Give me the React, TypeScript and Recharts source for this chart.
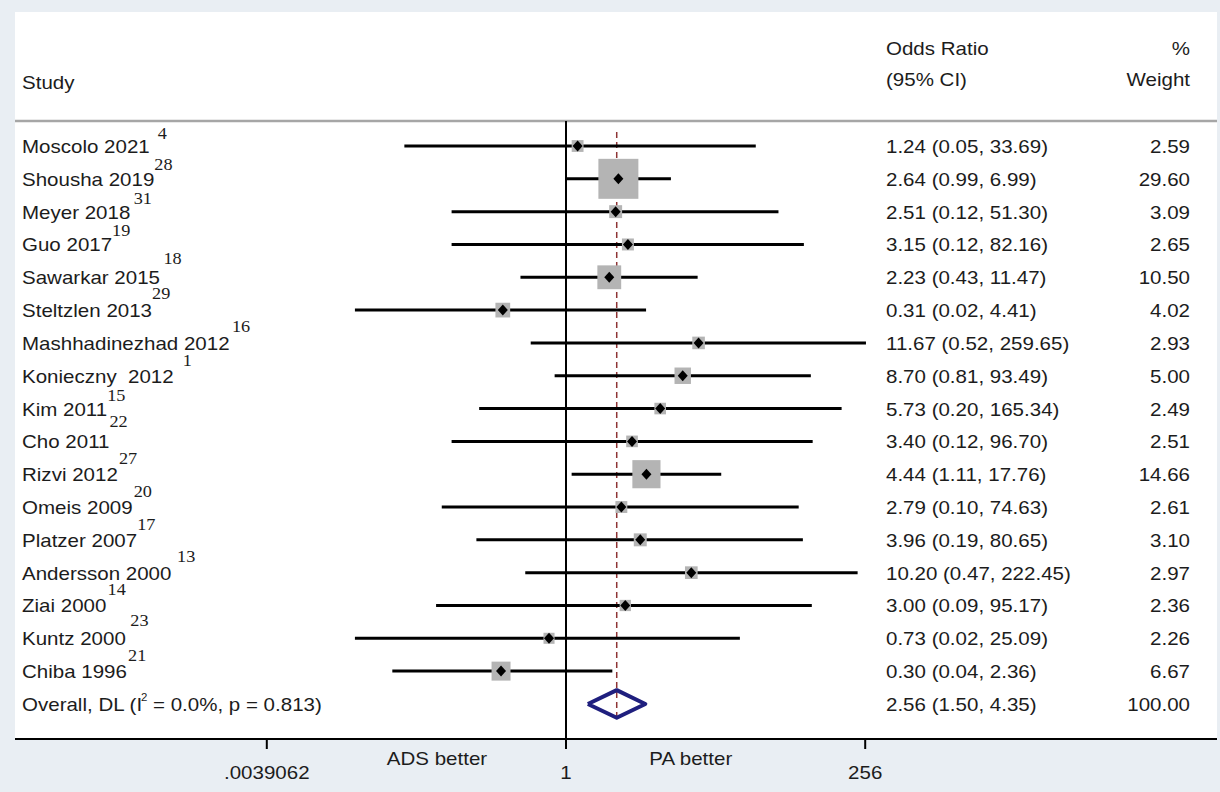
import {
  ScatterChart,
  Scatter,
  XAxis,
  YAxis,
  CartesianGrid,
  ReferenceLine,
  ErrorBar,
} from 'recharts';

// study rows, top to bottom
const studies = [
  'Moscolo 2021',
  'Shousha 2019',
  'Meyer 2018',
  'Guo 2017',
  'Sawarkar 2015',
  'Steltzlen 2013',
  'Mashhadinezhad 2012',
  'Konieczny  2012',
  'Kim 2011',
  'Cho 2011',
  'Rizvi 2012',
  'Omeis 2009',
  'Platzer 2007',
  'Andersson 2000',
  'Ziai 2000',
  'Kuntz 2000',
  'Chiba 1996',
];
const refs = ['4', '28', '31', '19', '18', '29', '16', '1', '15', '22', '27', '20', '17', '13', '14', '23', '21'];
const oddsRatio = [1.24, 2.64, 2.51, 3.15, 2.23, 0.31, 11.67, 8.7, 5.73, 3.4, 4.44, 2.79, 3.96, 10.2, 3.0, 0.73, 0.3];
const ciLow = [0.05, 0.99, 0.12, 0.12, 0.43, 0.02, 0.52, 0.81, 0.2, 0.12, 1.11, 0.1, 0.19, 0.47, 0.09, 0.02, 0.04];
const ciHigh = [33.69, 6.99, 51.3, 82.16, 11.47, 4.41, 259.65, 93.49, 165.34, 96.7, 17.76, 74.63, 80.65, 222.45, 95.17, 25.09, 2.36];
const weights = [2.59, 29.6, 3.09, 2.65, 10.5, 4.02, 2.93, 5.0, 2.49, 2.51, 14.66, 2.61, 3.1, 2.97, 2.36, 2.26, 6.67];

const overallOR = 2.56;
const overallLow = 1.5;
const overallHigh = 4.35;
const overallWeight = 100;

const axisTicks = [0.00390625, 1, 256];
const axisTickLabels = ['.0039062', '1', '256'];
const favourAt = [0.0915, 10.1];
const favourLabels = ['ADS better', 'PA better'];

// layout
const PLOT_LEFT = 15;
const PLOT_RIGHT = 1217;
const PLOT_TOP = 12;
const PLOT_BOTTOM = 739;
const X_ONE = 566;
const PX_PER_LOG2 = 37.4;
const ROW0 = 146;
const ROW_STEP = 32.82;
const COL_NAME = 22;
const COL_OR = 886;
const COL_W = 1190;
const supGap = [7, 0, 3, 0, 3, 0, 2, 8, 0, 0, 1, 1, 0, 5, 1, 4, 1];
const supLift = [14, 16, 15, 15, 20, 18, 18, 17, 15, 21, 17, 17, 17, 18, 17, 19, 17];

const xDomain = [
  2 ** ((PLOT_LEFT - X_ONE) / PX_PER_LOG2),
  2 ** ((PLOT_RIGHT - X_ONE) / PX_PER_LOG2),
];
const yDomain = [(PLOT_TOP - ROW0) / ROW_STEP, (PLOT_BOTTOM - ROW0) / ROW_STEP];
const HEADER_ROW = (121 - ROW0) / ROW_STEP;
const OVERALL_ROW = studies.length;

const rows = studies.map((s, i) => ({
  x: oddsRatio[i],
  y: i,
  w: weights[i],
  err: [oddsRatio[i] - ciLow[i], ciHigh[i] - oddsRatio[i]],
}));

const diamondH = 0.42;
const diamond = [
  { x: overallLow, y: OVERALL_ROW },
  { x: overallOR, y: OVERALL_ROW - diamondH },
  { x: overallHigh, y: OVERALL_ROW },
  { x: overallOR, y: OVERALL_ROW + diamondH },
  { x: overallLow, y: OVERALL_ROW },
];

const fmt = (v: number) => v.toFixed(2);
const FONT = "'Liberation Sans', Arial, sans-serif";
const SERIF = "'Liberation Serif', 'Times New Roman', serif";

function T({ x, y, anchor = 'start', children }: any) {
  return (
    <text
      transform={`translate(${x},${y}) scale(1.14,1)`}
      textAnchor={anchor}
      fontFamily={FONT}
      fontSize={18}
      fill="#1c1c1c"
      style={{ whiteSpace: 'pre' }}
    >
      {children}
    </text>
  );
}

function YTick({ y, payload }: any) {
  const v = payload.value;
  if (v === -3) {
    return (
      <g>
        <T x={COL_OR} y={y + 7}>Odds Ratio</T>
        <T x={COL_W} y={y + 7} anchor="end">%</T>
      </g>
    );
  }
  if (v === -2) {
    return (
      <g>
        <T x={COL_NAME} y={y + 9}>Study</T>
        <T x={COL_OR} y={y + 6}>(95% CI)</T>
        <T x={COL_W} y={y + 6} anchor="end">Weight</T>
      </g>
    );
  }
  if (v === OVERALL_ROW) {
    return (
      <g>
        <T x={COL_NAME} y={y + 7}>
          Overall, DL (I
          <tspan fontSize={10} dy={-10} dx={-1}>2</tspan>
          <tspan dy={10}> = 0.0%, p = 0.813)</tspan>
        </T>
        <T x={COL_OR} y={y + 7}>{`${fmt(overallOR)} (${fmt(overallLow)}, ${fmt(overallHigh)})`}</T>
        <T x={COL_W} y={y + 7} anchor="end">{fmt(overallWeight)}</T>
      </g>
    );
  }
  const i = v;
  return (
    <g>
      <T x={COL_NAME} y={y + 7}>
        {studies[i]}
        <tspan dx={supGap[i]} dy={-supLift[i]} fontFamily={SERIF} fontSize={16}>
          {refs[i]}
        </tspan>
      </T>
      <T x={COL_OR} y={y + 7}>{`${fmt(oddsRatio[i])} (${fmt(ciLow[i])}, ${fmt(ciHigh[i])})`}</T>
      <T x={COL_W} y={y + 7} anchor="end">{fmt(weights[i])}</T>
    </g>
  );
}

function XTick({ x, y, payload }: any) {
  const v = payload.value;
  const fi = favourAt.indexOf(v);
  if (fi >= 0) {
    return <T x={x} y={y + 16} anchor="middle">{favourLabels[fi]}</T>;
  }
  const li = axisTicks.indexOf(v);
  return (
    <g>
      <line x1={x} x2={x} y1={y - 10} y2={y} stroke="#000" strokeWidth={2} />
      <T x={x} y={y + 30} anchor="middle">{axisTickLabels[li]}</T>
    </g>
  );
}

function BoxShape({ cx, cy, payload }: any) {
  const s = 7.35 * Math.sqrt(payload.w);
  return <rect x={cx - s / 2} y={cy - s / 2} width={s} height={s} fill="#b4b4b4" />;
}

function PointShape({ cx, cy }: any) {
  return (
    <path
      d={`M${cx - 5},${cy} L${cx},${cy - 5.5} L${cx + 5},${cy} L${cx},${cy + 5.5} Z`}
      fill="#000"
    />
  );
}

export default function App() {
  return (
    <div
      style={{
        position: 'absolute',
        left: 0,
        top: 0,
        width: 1220,
        height: 792,
        background: '#e9eef3',
      }}
    >
      <ScatterChart
        width={1220}
        height={792}
        margin={{ top: PLOT_TOP, right: 1220 - PLOT_RIGHT, bottom: 0, left: PLOT_LEFT - 1 }}
      >
        <CartesianGrid horizontal={false} vertical={false} fill="#fff" />

        <XAxis
          type="number"
          dataKey="x"
          scale="log"
          domain={xDomain}
          allowDataOverflow
          ticks={[...axisTicks, ...favourAt]}
          interval={0}
          tick={(p: any) => <XTick {...p} />}
          tickLine={false}
          tickSize={10}
          tickMargin={0}
          axisLine={{ stroke: '#000', strokeWidth: 2 }}
          height={792 - PLOT_BOTTOM}
        />

        <YAxis
          type="number"
          dataKey="y"
          domain={yDomain}
          reversed
          allowDataOverflow
          width={1}
          ticks={[-3, -2, ...studies.map((_, i) => i), OVERALL_ROW]}
          interval={0}
          tick={(p: any) => <YTick {...p} />}
          tickLine={false}
          axisLine={false}
        />

        <ReferenceLine y={HEADER_ROW} stroke="#a6a6a6" strokeWidth={2.5} />

        <ReferenceLine
          segment={[
            { x: 1, y: HEADER_ROW },
            { x: 1, y: yDomain[1] },
          ]}
          stroke="#000"
          strokeWidth={2}
        />

        <Scatter data={rows} shape={BoxShape} isAnimationActive={false} />

        <ReferenceLine
          segment={[
            { x: overallOR, y: -0.43 },
            { x: overallOR, y: 17.55 },
          ]}
          stroke="#8e3535"
          strokeWidth={1.5}
          strokeDasharray="6 4"
        />

        <Scatter data={rows} shape={PointShape} isAnimationActive={false}>
          <ErrorBar
            dataKey="err"
            direction="x"
            width={0}
            stroke="#000"
            strokeWidth={3}
            isAnimationActive={false}
          />
        </Scatter>

        <Scatter
          data={diamond}
          line={{ stroke: '#1f1f7e', strokeWidth: 4, strokeLinejoin: 'round' }}
          shape={() => <g />}
          isAnimationActive={false}
        />
      </ScatterChart>
    </div>
  );
}
